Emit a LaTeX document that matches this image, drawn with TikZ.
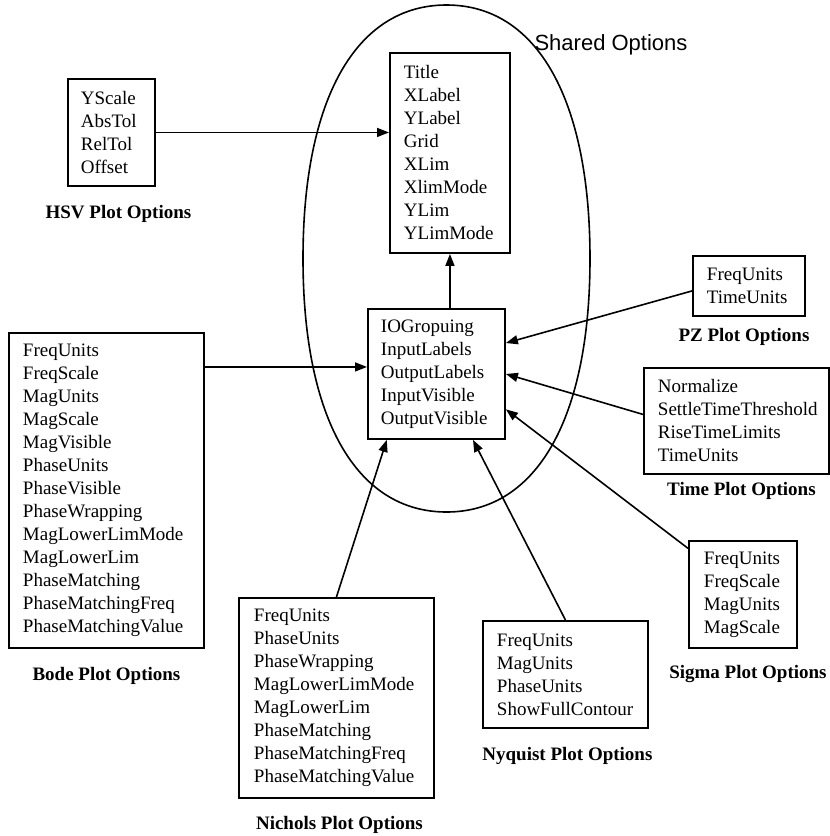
\documentclass[tikz,border=0pt]{standalone}
\usepackage{fontspec}
\setmainfont{Liberation Serif}
\newfontfamily\headfont{Liberation Sans}
\usepackage{tikz}
\usetikzlibrary{calc,arrows.meta,positioning}

\begin{document}
\begin{tikzpicture}[x=1pt, y=-1pt, font=\fontsize{19}{23}\selectfont,
		optbox/.style={draw, line width=1.9pt, align=left, anchor=north west, inner ysep=0pt},
		caption/.style={font=\fontsize{19}{23}\selectfont\bfseries, inner sep=0pt},
		feed/.style={line width=1.6pt, -{Triangle[length=12pt,width=9pt]}}]
			\useasboundingbox (0,0) rectangle (830,836);
			% shared options
			\draw[line width=1.6pt] (446.5,5) .. controls (537,5) and (590,99) .. (590,258.5)
				.. controls (590,418) and (537,512) .. (446.5,512)
				.. controls (356,512) and (303,418) .. (303,258.5)
				.. controls (303,99) and (356,5) .. (446.5,5);
			\node[font=\headfont\fontsize{22}{26}\selectfont] (sharedcap) at (611,45) {Shared Options};
			\node[optbox, text width=92pt, inner xsep=14pt, minimum height=200pt] (shared) at (389,52)
				{Title\\XLabel\\YLabel\\Grid\\XLim\\XlimMode\\YLim\\YLimMode};
			\node[optbox, text width=111pt, inner xsep=13pt, minimum height=130pt] (io) at (367,308)
				{IOGropuing\\InputLabels\\OutputLabels\\InputVisible\\OutputVisible};
			% plot options
			\node[optbox, text width=61pt, inner xsep=13pt, minimum height=107pt] (hsv) at (67,78)
				{YScale\\AbsTol\\RelTol\\Offset};
			\node[optbox, text width=167pt, inner xsep=14pt, minimum height=315pt] (bode) at (8,332)
				{FreqUnits\\FreqScale\\MagUnits\\MagScale\\MagVisible\\PhaseUnits\\PhaseVisible\\PhaseWrapping\\MagLowerLimMode\\MagLowerLim\\PhaseMatching\\PhaseMatchingFreq\\PhaseMatchingValue};
			\node[optbox, text width=165pt, inner xsep=15pt, minimum height=200pt] (nichols) at (238,597)
				{FreqUnits\\PhaseUnits\\PhaseWrapping\\MagLowerLimMode\\MagLowerLim\\PhaseMatching\\PhaseMatchingFreq\\PhaseMatchingValue};
			\node[optbox, text width=137pt, inner xsep=14pt, minimum height=107pt] (nyquist) at (482,620)
				{FreqUnits\\MagUnits\\PhaseUnits\\ShowFullContour};
			\node[optbox, text width=78pt, inner xsep=15pt, minimum height=107pt] (sigma) at (688,540)
				{FreqUnits\\FreqScale\\MagUnits\\MagScale};
			\node[optbox, text width=157pt, inner xsep=14pt, minimum height=106pt] (time) at (643,367)
				{Normalize\\SettleTimeThreshold\\RiseTimeLimits\\TimeUnits};
			\node[optbox, text width=84pt, inner xsep=14pt, minimum height=60pt] (pz) at (692,255)
				{FreqUnits\\TimeUnits};
			% captions
			\node[caption, below=18pt of hsv, xshift=7pt] (hsvcap) {HSV Plot Options};
			\node[caption, below=18pt of bode] (bodecap) {Bode Plot Options};
			\node[caption, below=17pt of nichols, xshift=3pt] (nicholscap) {Nichols Plot Options};
			\node[caption, below=18pt of nyquist, xshift=2pt] (nyquistcap) {Nyquist Plot Options};
			\node[caption, below=16pt of sigma, xshift=5pt] (sigmacap) {Sigma Plot Options};
			\node[caption, below=7pt of time, xshift=5pt] (timecap) {Time Plot Options};
			\node[caption, below=11pt of pz, xshift=-5pt] (pzcap) {PZ Plot Options};
			% arrows
			\coordinate (bodein) at ([yshift=7pt]io.west);
			\draw[feed] (hsv.east) -- (hsv.east -| shared.west);
			\draw[feed] (shared.south |- io.north) -- (shared.south);
			\draw[feed] (bodein -| bode.east) -- (bodein);
			\draw[feed] (nichols.north) -- (io.233);
			\draw[feed] (nyquist.north) -- (io.299);
			\draw[feed] (sigma.140) -- (io.333);
			\draw[feed] (time.176) -- (io.east);
			\draw[feed] (pz.185) -- (io.24);
		\end{tikzpicture}
\end{document}
